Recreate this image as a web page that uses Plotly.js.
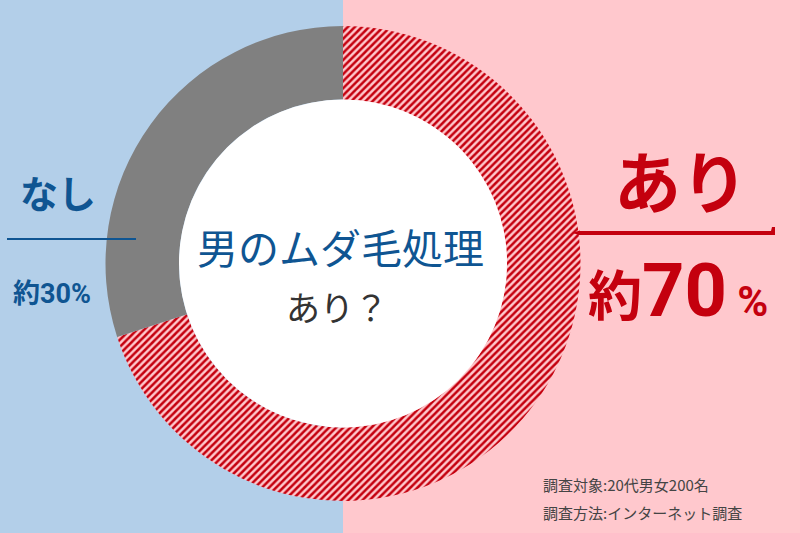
<!DOCTYPE html>
<html>
<head>
<meta charset="utf-8">
<script src="https://cdn.plot.ly/plotly-3.0.1.min.js"></script>
<style>
  html, body { margin: 0; padding: 0; background: #ffffff; }
  #myDiv { width: 800px; height: 533px; }
</style>
</head>
<body>
<div id="myDiv"></div>
<script>
// データ
const labels = ['あり', 'なし'];
const values = [70, 30];
const percentTexts = ['約70%', '約30%'];
const centerTitle = '男のムダ毛処理';
const centerSub = 'あり？';
const notes = ['調査対象:20代男女200名', '調査方法:インターネット調査'];

const W = 800, H = 533;
const cx = 343, cy = 263.5, rOut = 237.5, rIn = 164;

const blue = '#0f5592';
const red = '#c4000e';
const bgBlue = '#b3cfe9';
const bgPink = '#ffc8cd';
const jp = '"Noto Sans CJK JP", "Noto Sans", sans-serif';

// 画素 -> paper座標
function px(x) { return x / W; }
function py(y) { return 1 - y / H; }

// 注釈を作る (anchor は明示しないと auto で左右にずれる)
function note(text, x, y, size, color, family, xanchor) {
    return {
        text: text, x: px(x), y: py(y), xref: 'paper', yref: 'paper',
        xanchor: xanchor || 'center', yanchor: 'middle',
        showarrow: false, font: { family: family || jp, size: size, color: color }
    };
}

let trace = {
    type: 'pie',
    labels: labels,
    values: values,
    sort: false,
    direction: 'clockwise',
    rotation: 0,
    hole: rIn / rOut,
    textinfo: 'none',
    hoverinfo: 'none',
    showlegend: false,
    domain: {
        x: [px(cx - rOut), px(cx + rOut)],
        y: [py(cy + rOut), py(cy - rOut)]
    },
    marker: {
        colors: [bgPink, '#808080'],
        line: { width: 0 },
        pattern: {
            shape: ['/', ''],
            fgcolor: [red, '#808080'],
            bgcolor: [bgPink, '#808080'],
            size: 5,
            solidity: 0.5
        }
    }
};

let layout = {
    width: W,
    height: H,
    margin: { l: 0, r: 0, t: 0, b: 0 },
    paper_bgcolor: bgPink,
    plot_bgcolor: bgPink,
    showlegend: false,
    shapes: [
        // 左半分の青背景
        { type: 'rect', xref: 'paper', yref: 'paper', x0: 0, x1: px(cx), y0: 0, y1: 1,
          fillcolor: bgBlue, line: { width: 0 }, layer: 'below' },
        // 中央の白い円
        { type: 'circle', xref: 'paper', yref: 'paper',
          xsizemode: 'pixel', ysizemode: 'pixel', xanchor: px(cx), yanchor: py(cy),
          x0: -rIn, x1: rIn, y0: -rIn, y1: rIn,
          fillcolor: '#ffffff', line: { width: 0 }, layer: 'above' },
        // なし の線
        { type: 'line', xref: 'paper', yref: 'paper', x0: px(7), x1: px(136), y0: py(239), y1: py(239),
          line: { color: blue, width: 2 } },
        // あり の線
        { type: 'line', xref: 'paper', yref: 'paper', x0: px(578), x1: px(772), y0: py(233), y1: py(233),
          line: { color: red, width: 4 } },
        { type: 'path', xref: 'paper', yref: 'paper',
          path: `M ${px(572)} ${py(233)} L ${px(580)} ${py(230.5)} L ${px(580)} ${py(235)} Z`,
          fillcolor: red, line: { width: 0 } },
        { type: 'path', xref: 'paper', yref: 'paper',
          path: `M ${px(770)} ${py(235)} L ${px(772)} ${py(227)} L ${px(775)} ${py(227)} L ${px(775)} ${py(235)} Z`,
          fillcolor: red, line: { width: 0 } }
    ],
    annotations: [
        note('<b>' + labels[1] + '</b>', 58, 191, 38, blue),
        note('<b>' + percentTexts[1] + '</b>', 52, 294, 27, blue, 'Roboto, ' + jp),
        note('<b>' + labels[0] + '</b>', 681, 178, 67, red),
        note('<b><span style="font-size:54px">約</span><span style="font-size:74px">' +
             percentTexts[0].slice(1, -1) + '</span><span style="font-size:42px"> %</span></b>',
             678, 290, 54, red, 'Roboto, ' + jp),
        note(centerTitle, 340, 246, 41, blue),
        note(centerSub, 337, 306, 34, '#333333'),
        note(notes[0], 541, 484, 15, '#444444', jp, 'left'),
        note(notes[1], 541, 512, 15, '#444444', jp, 'left')
    ]
};

Plotly.newPlot('myDiv', [trace], layout, { displayModeBar: false, staticPlot: true });
</script>
</body>
</html>
